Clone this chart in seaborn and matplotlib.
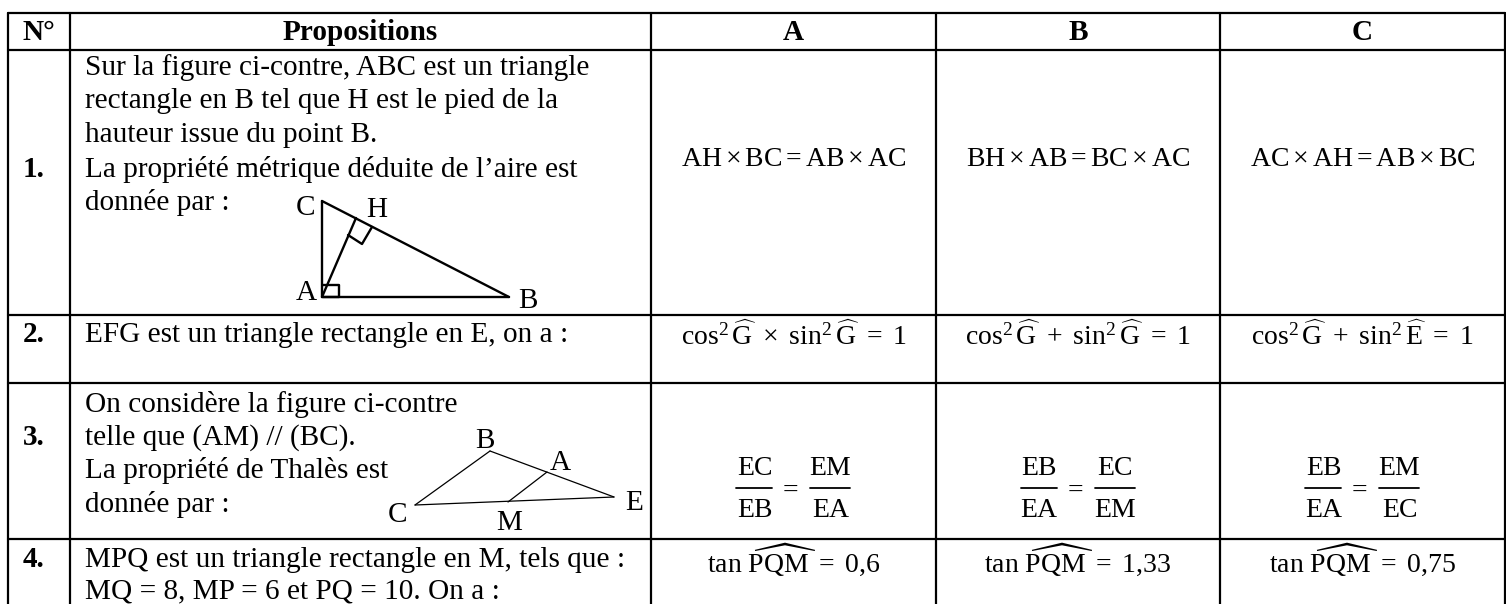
import pandas as pd
import matplotlib.pyplot as plt
import seaborn as sns

# table content
headers = ["N°", "Propositions", "A", "B", "C"]
row_labels = ["1.", "2.", "3.", "4."]
row_label_y = [177, 342, 445, 567]

prop_lines = [
    "Sur la figure ci-contre, ABC est un triangle",
    "rectangle en B tel que H est le pied de la",
    "hauteur issue du point B.",
    "La propriété métrique déduite de l’aire est",
    "donnée par :",
    "EFG est un triangle rectangle en E, on a :",
    "On considère la figure ci-contre",
    "telle que (AM) // (BC).",
    "La propriété de Thalès est",
    "donnée par :",
    "MPQ est un triangle rectangle en M, tels que :",
    "MQ = 8, MP = 6 et PQ = 10. On a :",
]
prop_y = [75, 108, 142, 177, 210, 342, 412, 445, 478, 512, 567, 598]

G = r"\widehat{\mathrm{G}}"
E = r"\widehat{\mathrm{E}}"
PQM = r"\widehat{\mathrm{PQM}}"

answers_1 = [
    r"$\mathrm{AH}\times\mathrm{BC}=\mathrm{AB}\times\mathrm{AC}$",
    r"$\mathrm{BH}\times\mathrm{AB}=\mathrm{BC}\times\mathrm{AC}$",
    r"$\mathrm{AC}\times\mathrm{AH}=\mathrm{AB}\times\mathrm{BC}$",
]
answers_2 = [
    rf"$\cos^2{G}\ \times\ \sin^2{G}\ =\ 1$",
    rf"$\cos^2{G}\ +\ \sin^2{G}\ =\ 1$",
    rf"$\cos^2{G}\ +\ \sin^2{E}\ =\ 1$",
]
# row 3: (left numerator, left denominator, right numerator, right denominator)
answers_3 = [
    ("EC", "EB", "EM", "EA"),
    ("EB", "EA", "EC", "EM"),
    ("EB", "EA", "EM", "EC"),
]
answers_4 = [
    rf"$\tan\,{PQM}\ =\ 0{{,}}6$",
    rf"$\tan\,{PQM}\ =\ 1{{,}}33$",
    rf"$\tan\,{PQM}\ =\ 0{{,}}75$",
]

# grid rules (no closing rule at the bottom, the page is cut there)
col_edges = [8, 70, 651, 936, 1220, 1505]
row_edges = [13, 50, 315, 383, 539]
bottom = 604

# first figure: triangle ABC with height AH
fig1_segments = {
    "CB": ([322, 509], [201, 297]),
    "CA": ([322, 322], [201, 297]),
    "AB": ([322, 509], [297, 297]),
    "AH": ([322, 356], [297, 218]),
    "mark_h": ([348, 362, 372], [235, 244, 227]),
    "mark_a": ([323, 339, 339, 323], [285, 285, 297, 297]),
}
fig1_labels = {"C": (306, 215), "H": (377, 217), "A": (306, 300), "B": (528, 308)}

# second figure: Thales configuration
fig2_segments = {
    "BE": ([490, 614], [451, 497]),
    "CB": ([415, 490], [505, 451]),
    "CE": ([415, 614], [505, 497]),
    "MA": ([508, 547], [502, 472]),
}
fig2_labels = {"B": (485, 448), "A": (560, 470), "E": (634, 510), "C": (398, 522), "M": (509, 530)}


def to_frame(segments):
    rows = []
    for name, (xs, ys) in segments.items():
        for x, y in zip(xs, ys):
            rows.append({"seg": name, "x": x, "y": y})
    return pd.DataFrame(rows)


sns.set_theme(style="white")
plt.rcParams["font.family"] = ["Liberation Serif", "DejaVu Serif"]
plt.rcParams["mathtext.fontset"] = "custom"
plt.rcParams["mathtext.rm"] = "Liberation Serif"
plt.rcParams["mathtext.it"] = "Liberation Serif:italic"
plt.rcParams["mathtext.bf"] = "Liberation Serif:bold"

fig, ax = plt.subplots(figsize=(15.06, 6.04), dpi=100)
fig.subplots_adjust(left=0, right=1, top=1, bottom=0)

# rules
rules = {}
for i, x in enumerate(col_edges):
    rules[f"v{i}"] = ([x, x], [row_edges[0], bottom])
for i, y in enumerate(row_edges):
    rules[f"h{i}"] = ([col_edges[0], col_edges[-1]], [y, y])
sns.lineplot(data=to_frame(rules), x="x", y="y", units="seg", estimator=None,
             sort=False, color="black", linewidth=1.6, ax=ax)

sns.lineplot(data=to_frame(fig1_segments), x="x", y="y", units="seg", estimator=None,
             sort=False, color="black", linewidth=1.7, ax=ax)
sns.lineplot(data=to_frame(fig2_segments), x="x", y="y", units="seg", estimator=None,
             sort=False, color="black", linewidth=0.9, ax=ax)

text_size = 21.1
head_x = [(a + b) / 2 for a, b in zip(col_edges[:-1], col_edges[1:])]
for x, label in zip(head_x, headers):
    ax.text(x, 40, label, ha="center", va="baseline", fontsize=text_size, fontweight="bold", color="black")
for y, label in zip(row_label_y, row_labels):
    ax.text(23, y, label, ha="left", va="baseline", fontsize=text_size, fontweight="bold", color="black")
for y, line in zip(prop_y, prop_lines):
    ax.text(85, y, line, ha="left", va="baseline", fontsize=text_size, color="black")

for labels in (fig1_labels, fig2_labels):
    for name, (x, y) in labels.items():
        ax.text(x, y, name, ha="center", va="baseline", fontsize=text_size, color="black")

# formulas, one column at a time
answer_x = head_x[2:]
for answers, y in ((answers_1, 160), (answers_2, 336), (answers_4, 560)):
    for x, formula in zip(answer_x, answers):
        ax.text(x, y, formula, ha="center", va="center", fontsize=20, color="black")

# row 3 fractions are set by hand to get the open spacing of the original
bars = {}
for i, (x, parts) in enumerate(zip(answer_x, answers_3)):
    left, right = x - 39, x + 37
    bars[f"l{i}"] = ([left - 18, left + 18], [488, 488])
    bars[f"r{i}"] = ([right - 20, right + 20], [488, 488])
    ax.text(left, 475, parts[0], ha="center", va="baseline", fontsize=20, color="black")
    ax.text(left, 517, parts[1], ha="center", va="baseline", fontsize=20, color="black")
    ax.text(right, 475, parts[2], ha="center", va="baseline", fontsize=20, color="black")
    ax.text(right, 517, parts[3], ha="center", va="baseline", fontsize=20, color="black")
    ax.text(x - 3, 488, "=", ha="center", va="center_baseline", fontsize=20, color="black")
sns.lineplot(data=to_frame(bars), x="x", y="y", units="seg", estimator=None,
             sort=False, color="black", linewidth=1.3, ax=ax)

ax.set_xlim(0, 1506)
ax.set_ylim(604, 0)
ax.set_axis_off()

fig.savefig("out.png", dpi=100)
